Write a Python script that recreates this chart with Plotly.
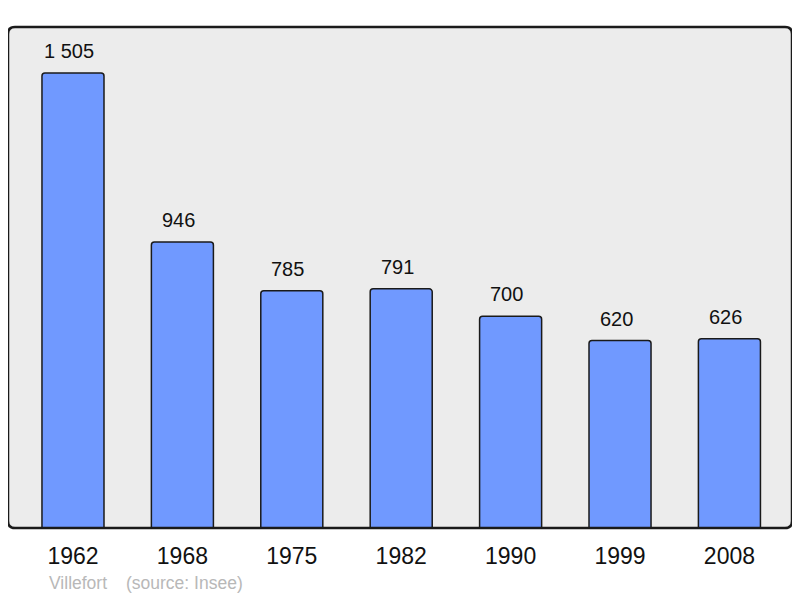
import plotly.graph_objects as go

years = ["1962", "1968", "1975", "1982", "1990", "1999", "2008"]
population = [1505, 946, 785, 791, 700, 620, 626]
value_labels = ["1 505", "946", "785", "791", "700", "620", "626"]
town = "Villefort"
source = "(source: Insee)"

# the page places the figure at (8, 8); sizes below compensate
W, H = 792, 590
L, R, T, B = 0, 8, 19, 70
pw, ph = W - L - R, H - T - B

fig = go.Figure()
fig.add_trace(go.Bar(
    x=list(range(len(years))), y=population, width=0.567,
    marker=dict(color="rgb(112,153,255)", line=dict(color="#1a1a1a", width=1.5), cornerradius=3),
    hoverinfo="skip",
))

for i, (v, t) in enumerate(zip(population, value_labels)):
    fig.add_annotation(x=i, y=v, text=t, showarrow=False, yshift=22, xshift=-4, yanchor="middle",
                       font=dict(family="Liberation Sans, Arial", size=20, color="#111"))

fig.add_annotation(x=(47 - 8) / pw, y=-55 / ph, xref="paper", yref="paper", text=town,
                   showarrow=False, xanchor="left", yanchor="middle",
                   font=dict(family="Liberation Sans, Arial", size=17.5, color="#b8b8b8"))
fig.add_annotation(x=(124 - 8) / pw, y=-55 / ph, xref="paper", yref="paper", text=source,
                   showarrow=False, xanchor="left", yanchor="middle",
                   font=dict(family="Liberation Sans, Arial", size=17.5, color="#b8b8b8"))

# rounded border of plot area
r = 7
rx, ry = r / pw, r / ph
path = (f"M {rx},0 L {1-rx},0 Q 1,0 1,{ry} L 1,{1-ry} Q 1,1 {1-rx},1 "
        f"L {rx},1 Q 0,1 0,{1-ry} L 0,{ry} Q 0,0 {rx},0 Z")
fig.add_shape(type="path", path=path, xref="paper", yref="paper",
              line=dict(color="#1a1a1a", width=2.5), layer="above")

fig.update_layout(
    width=W, height=H, margin=dict(l=L, r=R, t=T, b=B),
    paper_bgcolor="white", plot_bgcolor="#ececec",
    showlegend=False,
    xaxis=dict(tickmode="array", tickvals=list(range(len(years))), ticktext=years,
               range=[-0.594, 6.572], showgrid=False, zeroline=False,
               ticks="outside", ticklen=7, tickcolor="rgba(0,0,0,0)",
               tickfont=dict(family="Liberation Sans, Arial", size=23, color="#111")),
    yaxis=dict(range=[0, 1657], showgrid=False, zeroline=False, showticklabels=False),
)

fig.write_html("out.html")
